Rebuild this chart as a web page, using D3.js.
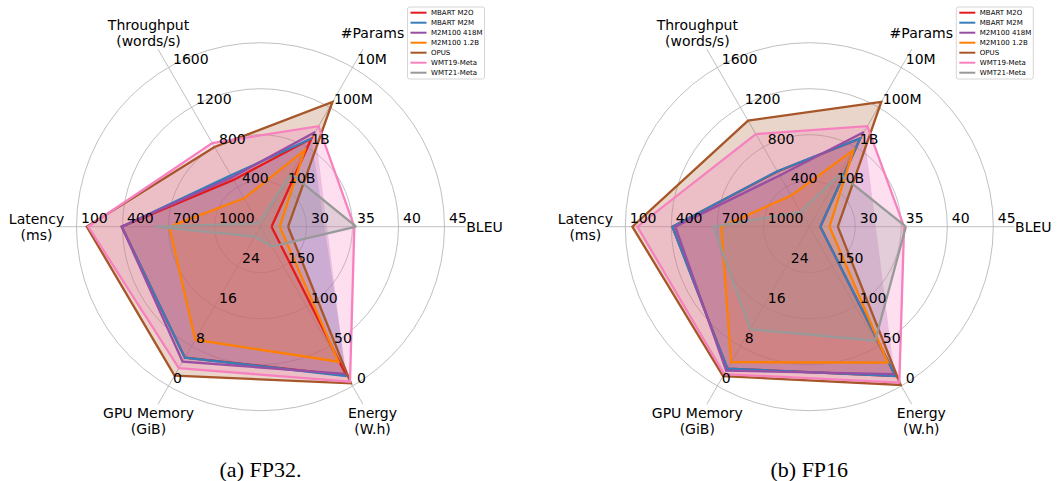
<!DOCTYPE html>
<html><head><meta charset="utf-8">
<script src="https://cdn.jsdelivr.net/npm/d3@7"></script>
<style>body{margin:0;background:#fff}svg{display:block}</style>
</head><body>
<svg id="c" width="1060" height="481"></svg>
<script>
// ---------- data ----------
const axisTitles = ["BLEU", "#Params", "Throughput\n(words/s)", "Latency\n(ms)", "GPU Memory\n(GiB)", "Energy\n(W.h)"];
const seriesNames = ["MBART M2O", "MBART M2M", "M2M100 418M", "M2M100 1.2B", "OPUS", "WMT19-Meta", "WMT21-Meta"];
const seriesColors = ["#e41a1c", "#377eb8", "#984ea3", "#ff7f00", "#a65628", "#f781bf", "#999999"];

// tick values / labels (innermost to outer ring)
const bleuTicks = [30, 35, 40, 45];
const paramTicks = [1e10, 1e9, 1e8, 1e7];
const paramTickLabels = ["10B", "1B", "100M", "10M"];
const throughputTicks = [400, 800, 1200, 1600];
const latencyTicks = [1000, 700, 400, 100];
const gpuTicks = [24, 16, 8, 0];
const energyTicks = [150, 100, 50, 0];

// FP32 (null = not reported)
const fp32BLEU       = [26.2, null, null, 27.1, 28.0, 35.2, 35.4];
const fp32Params     = [610e6, 610e6, 418e6, 1.2e9, 74e6, 300e6, 4.7e9];
const fp32Throughput = [470, 515, 495, 285, 800, 840, 35];
const fp32Latency    = [395, 395, 395, 705, 167, 177, 612];
const fp32GPU        = [5.7, 5.7, 4.9, 9.3, 2.1, 3.6, 30];
const fp32Energy     = [13.5, 12.6, 15.2, 30.5, 3.4, 5.4, 175];

// FP16
const fp16BLEU       = [26.2, 26.2, null, 27.2, 28.1, 35.3, 35.5];
const fp16Params     = [610e6, 610e6, 418e6, 1.2e9, 74e6, 300e6, 4.7e9];
const fp16Throughput = [555, 557, 515, 313, 1065, 930, 150];
const fp16Latency    = [407, 407, 426, 726, 146, 179, 674];
const fp16GPU        = [3.5, 3.5, 3.1, 4.8, 2.0, 2.4, 11.4];
const fp16Energy     = [12.6, 12.6, 15.0, 29.3, 1.3, 4.3, 56.9];

const captions = ["(a) FP32.", "(b) FP16"];

// ---------- drawing ----------
const svg = d3.select("#c");
svg.append("rect").attr("width", 1060).attr("height", 481).attr("fill", "#fff");

const R = 184;
const angles = [0, 60, 120, 180, 240, 300].map(d => d * Math.PI / 180);
const scales = [
  d3.scaleLinear().domain([25, 45]).range([0, R]),
  d3.scaleLog().domain([1e11, 1e7]).range([0, R]),
  d3.scaleLinear().domain([0, 1600]).range([0, R]),
  d3.scaleLinear().domain([1300, 100]).range([0, R]),
  d3.scaleLinear().domain([32, 0]).range([0, R]),
  d3.scaleLinear().domain([200, 0]).range([0, R])
];
const tickSets = [
  bleuTicks.map(v => [v, String(v)]),
  paramTicks.map((v, i) => [v, paramTickLabels[i]]),
  throughputTicks.map(v => [v, String(v)]),
  latencyTicks.map(v => [v, String(v)]),
  gpuTicks.map(v => [v, String(v)]),
  energyTicks.map(v => [v, String(v)])
];

function drawRadar(cx, cy, data, caption) {
  const g = svg.append("g").attr("transform", `translate(${cx},${cy})`);
  const pt = (k, v) => {
    const r = scales[k](v);
    return [r * Math.cos(angles[k]), -r * Math.sin(angles[k])];
  };
  // grid circles
  bleuTicks.forEach(t => {
    g.append("circle").attr("r", scales[0](t)).attr("fill", "none")
      .attr("stroke", "#b0b0b0").attr("stroke-width", 0.8);
  });
  // spokes
  angles.forEach(a => {
    g.append("line").attr("x1", 0).attr("y1", 0)
      .attr("x2", 205 * Math.cos(a)).attr("y2", -205 * Math.sin(a))
      .attr("stroke", "#b0b0b0").attr("stroke-width", 0.8);
  });
  // fills (below all lines)
  seriesNames.forEach((s, i) => {
    const pts = [];
    data.forEach((arr, k) => { if (arr[i] != null) pts.push(pt(k, arr[i])); });
    g.append("path").attr("d", "M" + pts.map(p => p.join(",")).join("L") + "Z")
      .attr("fill", seriesColors[i]).attr("fill-opacity", 0.25).attr("stroke", "none");
  });
  // lines
  const line = d3.line().defined(d => d != null).x(d => d[0]).y(d => d[1]);
  seriesNames.forEach((s, i) => {
    const seq = data.map((arr, k) => arr[i] == null ? null : pt(k, arr[i]));
    seq.push(seq[0]);
    g.append("path").attr("d", line(seq)).attr("fill", "none")
      .attr("stroke", seriesColors[i]).attr("stroke-width", 2.3)
      .attr("stroke-linejoin", "miter");
  });
  // tick labels
  tickSets.forEach((ts, k) => {
    ts.forEach(([v, lab]) => {
      const p = pt(k, v);
      g.append("text").attr("x", p[0] + 4.5).attr("y", p[1] - 3.5)
        .attr("font-family", "DejaVu Sans").attr("font-size", 14).attr("fill", "#000")
        .text(lab);
    });
  });
  // axis titles
  axisTitles.forEach((t, k) => {
    const lines = t.split("\n");
    const rr = 224;
    const x = rr * Math.cos(angles[k]), y = -rr * Math.sin(angles[k]);
    const lh = 16;
    const tx = g.append("text").attr("font-family", "DejaVu Sans").attr("font-size", 14)
      .attr("text-anchor", "middle").attr("fill", "#000");
    lines.forEach((l, j) => {
      tx.append("tspan").attr("x", x)
        .attr("y", y + (j - (lines.length - 1) / 2) * lh + 5).text(l);
    });
  });
  // legend
  const lg = g.append("g").attr("transform", `translate(147,${7 - cy})`);
  lg.append("rect").attr("width", 77).attr("height", 72).attr("rx", 2)
    .attr("fill", "#fff").attr("fill-opacity", 0.8).attr("stroke", "#cccccc").attr("stroke-width", 0.8);
  seriesNames.forEach((s, i) => {
    const yy = 5.7 + i * 10;
    lg.append("line").attr("x1", 3).attr("x2", 19).attr("y1", yy).attr("y2", yy)
      .attr("stroke", seriesColors[i]).attr("stroke-width", 2);
    lg.append("text").attr("x", 23.5).attr("y", yy + 2.4)
      .attr("font-family", "DejaVu Sans").attr("font-size", 7).attr("fill", "#000").text(s);
  });
  // caption
  svg.append("text").attr("x", cx).attr("y", 477).attr("text-anchor", "middle")
    .attr("font-family", "Liberation Serif").attr("font-size", 22).attr("fill", "#000").text(caption);
}

drawRadar(260.5, 226.7, [fp32BLEU, fp32Params, fp32Throughput, fp32Latency, fp32GPU, fp32Energy], captions[0]);
drawRadar(809.3, 226.7, [fp16BLEU, fp16Params, fp16Throughput, fp16Latency, fp16GPU, fp16Energy], captions[1]);
</script>
</body></html>
